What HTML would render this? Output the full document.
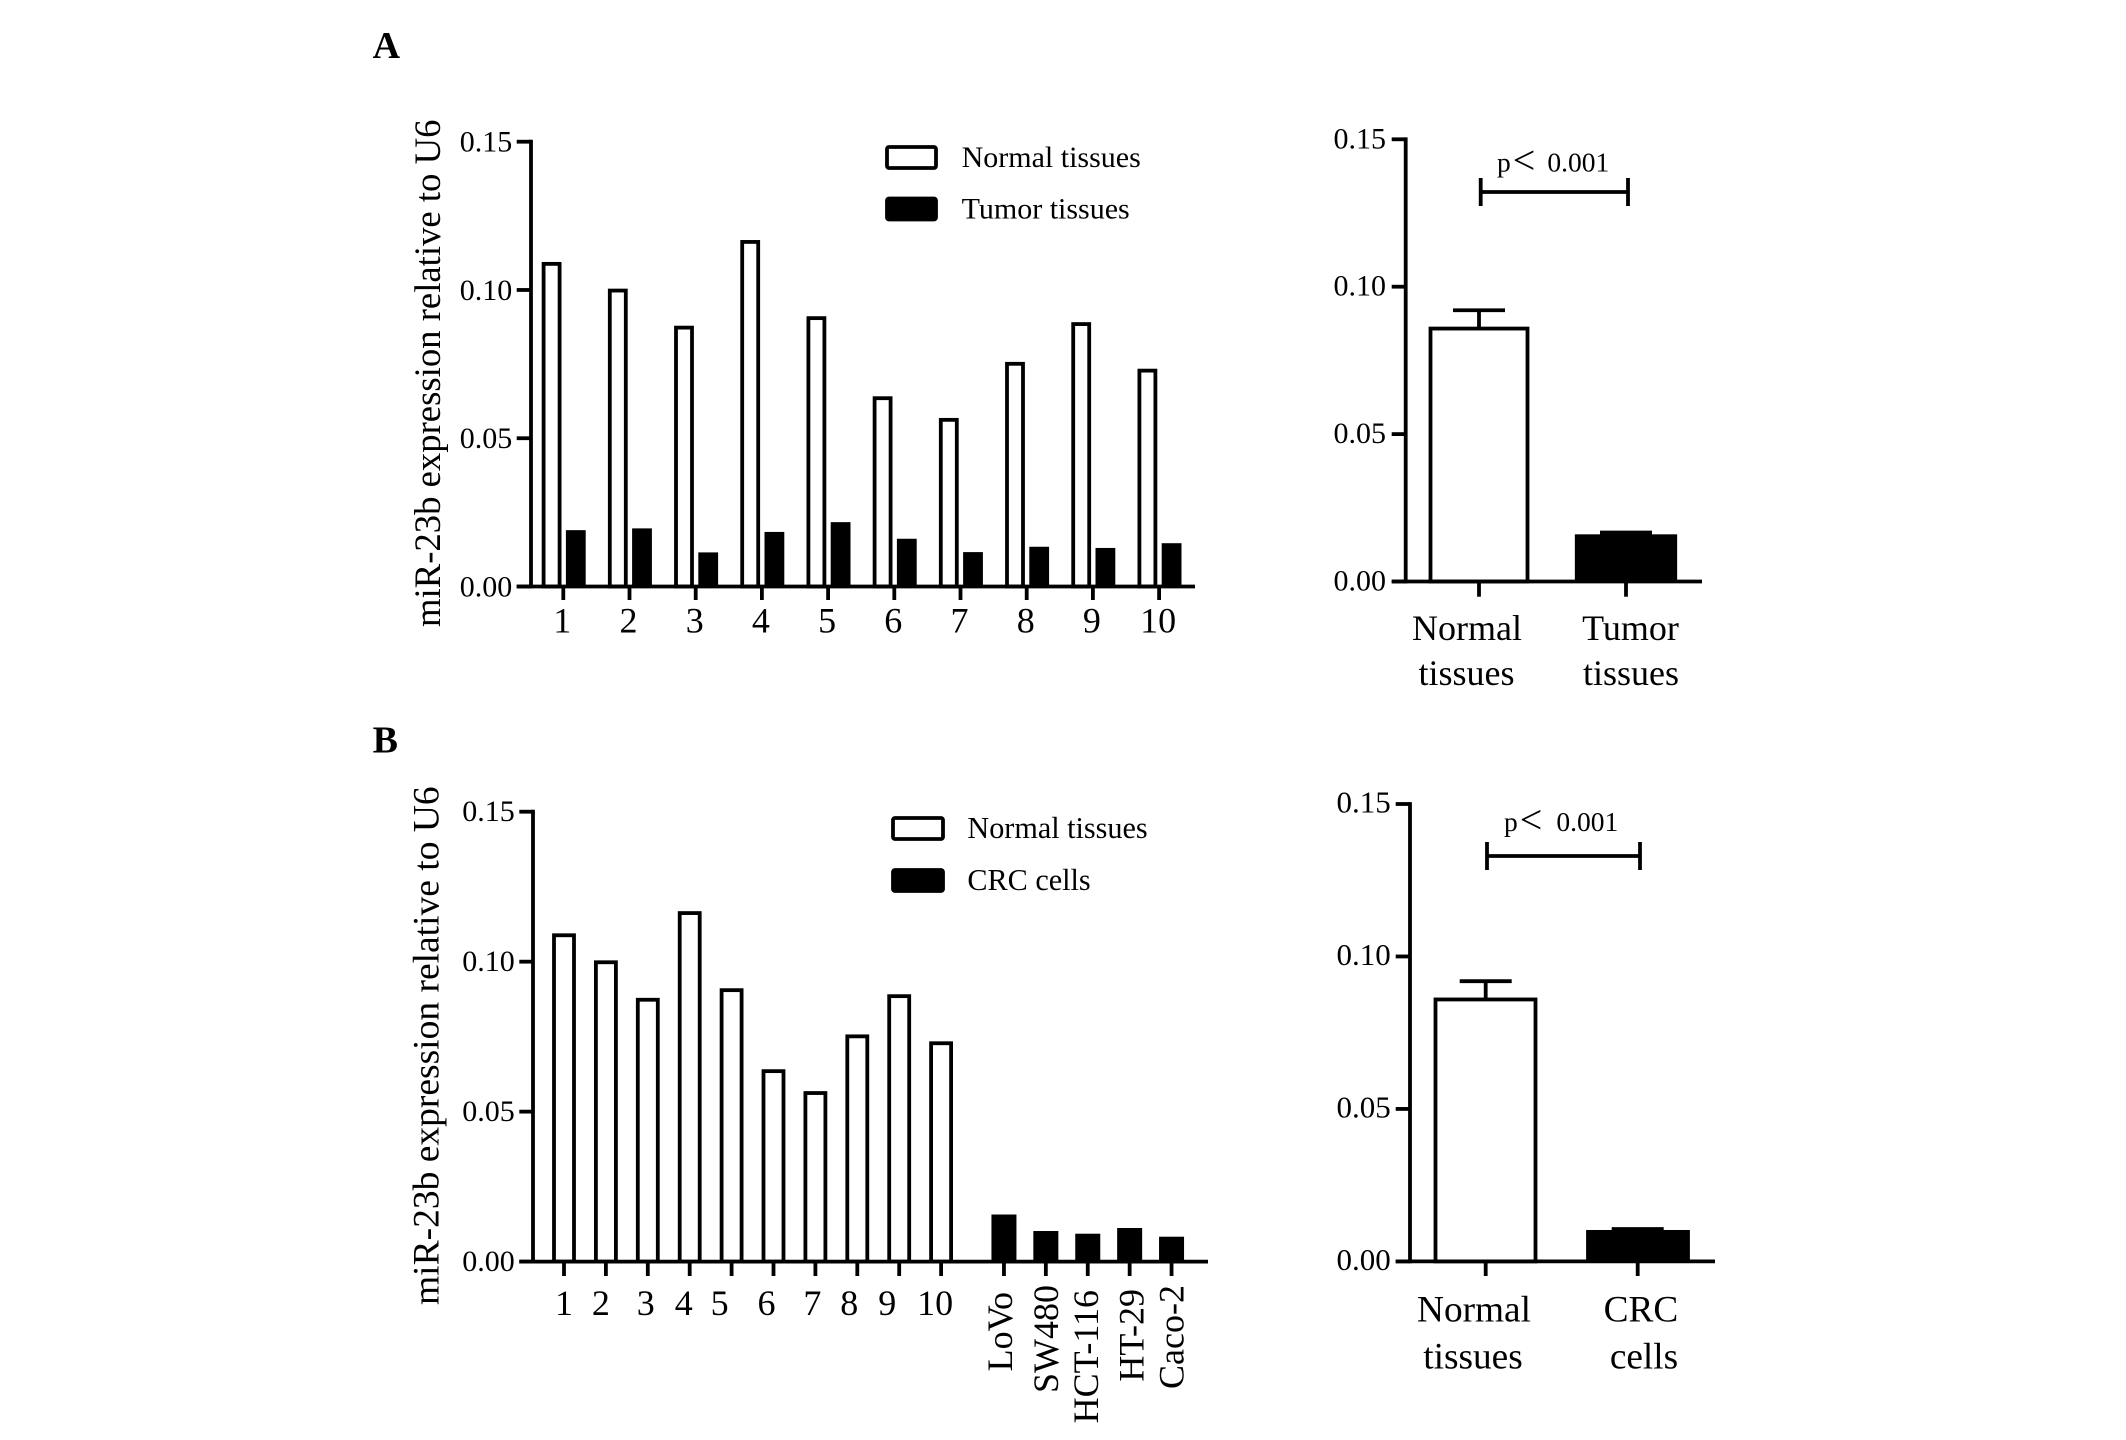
<!DOCTYPE html>
<html lang="en">
<head>
<meta charset="utf-8">
<title>miR-23b expression</title>
<style>
html,body{margin:0;padding:0;background:#fff;}
svg{display:block;}
text{font-family:"Liberation Serif",serif;fill:#000;}
</style>
</head>
<body>
<svg id="figure" xmlns="http://www.w3.org/2000/svg" width="2126" height="1440" viewBox="0 0 2126 1440"></svg>
<script>
const yTickValues = [0, 0.05, 0.10, 0.15];
const yTickLabels = ["0.00", "0.05", "0.10", "0.15"];
const sampleCategories = ["1", "2", "3", "4", "5", "6", "7", "8", "9", "10"];
const cellLines = ["LoVo", "SW480", "HCT-116", "HT-29", "Caco-2"];
const normalTissues = [0.1088, 0.0998, 0.0873, 0.1162, 0.0905, 0.0635, 0.0562, 0.0751, 0.0885, 0.0728];
const tumorTissues = [0.0190, 0.0196, 0.0115, 0.0184, 0.0217, 0.0161, 0.0116, 0.0134, 0.0130, 0.0146];
const crcCells = [0.0157, 0.0102, 0.0093, 0.0112, 0.0083];
const summaryAMeans = [0.0858, 0.0160];
const summaryAErrors = [0.0062, 0.0006];
const summaryALabels = [["Normal", "tissues"], ["Tumor", "tissues"]];
const summaryBMeans = [0.0859, 0.0103];
const summaryBErrors = [0.0060, 0.0003];
const summaryBLabels = [["Normal", "tissues"], ["CRC", "cells"]];

const svg = document.getElementById('figure');
const NS = 'http://www.w3.org/2000/svg';
const SW = 3.8;

function add(tag, name, attrs, parent) {
  const el = document.createElementNS(NS, tag);
  
  
  for (const k in attrs) el.setAttribute(k, attrs[k]);
  (parent || svg).appendChild(el);
  return el;
}
function line(name, x1, y1, x2, y2) {
  return add('line', name, {x1, y1, x2, y2, stroke: '#000', 'stroke-width': SW});
}
function bar(name, cx, w, top, bottom, filled) {
  if (filled) {
    return add('rect', name, {x: cx - (w + SW) / 2, y: top, width: w + SW, height: bottom - top, fill: '#000'});
  }
  return add('rect', name, {
    x: cx - w / 2, y: top, width: w, height: bottom - top,
    fill: '#fff', stroke: '#000', 'stroke-width': SW
  });
}
function label(name, content, x, y, size, anchor, extra) {
  const t = add('text', name, Object.assign({x, y, 'font-size': size, 'text-anchor': anchor || 'start'}, extra || {}));
  t.textContent = content;
  return t;
}
function yScale(p) {
  return v => p.y0 + (p.y15 - p.y0) * v / 0.15;
}
function yAxis(p, y) {
  line('y-axis', p.axisX, p.y15 - SW / 2, p.axisX, p.y0 + SW / 2);
  yTickValues.forEach((v, i) => {
    line('y-tick-' + yTickLabels[i], p.tickLeft, y(v), p.axisX, y(v));
    label('y-tick-label-' + yTickLabels[i], yTickLabels[i], p.labelRight, y(v) + p.labelDy, p.tickFont, 'end');
  });
}
function legend(p, firstText, secondText) {
  add('rect', 'legend-swatch-normal', {x: p.lx, y: p.ly1, width: p.lw, height: p.lh, rx: 2, fill: '#fff', stroke: '#000', 'stroke-width': SW});
  label('legend-label-normal', firstText, p.ltx, p.ly1 + p.lh - 1, p.lfont);
  add('rect', 'legend-swatch-filled', {x: p.lx, y: p.ly2, width: p.lw, height: p.lh, rx: 2, fill: '#000', stroke: '#000', 'stroke-width': SW});
  label('legend-label-filled', secondText, p.ltx, p.ly2 + p.lh - 1, p.lfont);
}
function yTitle(x, y, size) {
  label('y-axis-title', 'miR-23b expression relative to U6', 0, 0, size, 'start', {transform: 'translate(' + x + ',' + y + ') rotate(-90)'});
}

function drawPairedPanel() {
  const p = {axisX: 531, y0: 586.5, y15: 141.7, tickLeft: 516.7, labelRight: 512.3, tickFont: 30, labelDy: 10,
    lx: 887, ly1: 147, ly2: 198.5, lw: 49, lh: 21, ltx: 961.6, lfont: 30};
  const y = yScale(p);
  const x = i => 563.3 + 66.2 * i;
  sampleCategories.forEach((c, i) => {
    bar('bar-normal-' + c, x(i) - 11.7, 16, y(normalTissues[i]), p.y0, false);
    bar('bar-tumor-' + c, x(i) + 12.5, 16, y(tumorTissues[i]), p.y0, true);
    line('x-tick-' + c, x(i), p.y0, x(i), 600);
    label('x-tick-label-' + c, c, x(i) - 1, 632.7, 36, 'middle');
  });
  yAxis(p, y);
  line('x-axis', p.tickLeft, p.y0, 1195, p.y0);
  yTitle(440, 627, 36.7);
  legend(p, 'Normal tissues', 'Tumor tissues');
}

function drawCellPanel() {
  const p = {axisX: 533, y0: 1261.6, y15: 811.7, tickLeft: 519.3, labelRight: 514.7, tickFont: 30, labelDy: 9.5,
    lx: 893, ly1: 818, ly2: 870, lw: 50, lh: 21, ltx: 967.4, lfont: 30.2};
  const y = yScale(p);
  const x = i => 564 + 41.9 * i;
  const labelNudge = [0, -5, -2, -6, -12, -7, -3, -8, -12, -6];
  sampleCategories.forEach((c, i) => {
    bar('bar-normal-' + c, x(i), 20, y(normalTissues[i]), p.y0, false);
    line('x-tick-' + c, x(i), p.y0, x(i), 1276);
    label('x-tick-label-' + c, c, x(i) + labelNudge[i], 1315, 36, 'middle');
  });
  const labelTop = [1292, 1285, 1290, 1289, 1285];
  const baselineNudge = [8, 12, 10, 14, 12];
  cellLines.forEach((c, i) => {
    const cx = x(i + 10.5);
    bar('bar-cell-' + c, cx, 21.2, y(crcCells[i]), p.y0, true);
    line('x-tick-' + c, cx, p.y0, cx, 1276);
    label('x-tick-label-' + c, c, 0, 0, 36, 'end', {transform: 'translate(' + (cx + baselineNudge[i]) + ',' + labelTop[i] + ') rotate(-90)'});
  });
  yAxis(p, y);
  line('x-axis', p.tickLeft, p.y0, 1208, p.y0);
  yTitle(438.5, 1305, 37.5);
  legend(p, 'Normal tissues', 'CRC cells');
}

function drawSummary(p, means, errors, cats) {
  const y = yScale(p);
  means.forEach((m, i) => {
    const b = p.bars[i];
    const top = y(m + errors[i]);
    line('error-stem-' + i, b.tick, y(m), b.tick, top);
    line('error-cap-' + i, b.tick - 26, top, b.tick + 26, top);
    bar('summary-bar-' + cats[i][0].toLowerCase(), b.cx, b.w, y(m), p.y0, i === 1);
    line('x-tick-' + i, b.tick, p.y0, b.tick, p.tickBottom);
    label('x-label-' + cats[i][0].toLowerCase(), cats[i][0], b.l1, p.base1, p.catFont, 'middle');
    label('x-label-' + cats[i][1].toLowerCase() + '-' + i, cats[i][1], b.l2, p.base2, p.catFont, 'middle');
  });
  yAxis(p, y);
  line('x-axis', p.tickLeft, p.y0, p.xEnd, p.y0);
  line('significance-bracket', p.bx1, p.by, p.bx2, p.by);
  line('significance-bracket-left-cap', p.bx1, p.by - 14, p.bx1, p.by + 14);
  line('significance-bracket-right-cap', p.bx2, p.by - 14, p.bx2, p.by + 14);
  const t = add('text', 'p-value-label', {x: p.px, y: p.py, 'font-size': 27.5});
  t.textContent = 'p';
  const lt = document.createElementNS(NS, 'tspan');
  lt.setAttribute('font-size', '40');
  lt.setAttribute('dy', '2');
  lt.setAttribute('dx', '2');
  lt.textContent = '<';
  t.appendChild(lt);
  const num = document.createElementNS(NS, 'tspan');
  num.setAttribute('dy', '-2');
  num.setAttribute('dx', p.numDx);
  num.textContent = '0.001';
  t.appendChild(num);
}

add('rect', 'background', {x: 0, y: 0, width: 2126, height: 1440, fill: '#fff'});
label('panel-a-label', 'A', 372.6, 58, 38, 'start', {'font-weight': 'bold'});
label('panel-b-label', 'B', 372.6, 752.5, 38, 'start', {'font-weight': 'bold'});

drawPairedPanel();
drawCellPanel();
drawSummary({axisX: 1405.7, y0: 581.5, y15: 139.3, tickLeft: 1391.7, labelRight: 1386, tickFont: 30, labelDy: 9, xEnd: 1702,
  tickBottom: 596.7, catFont: 36, base1: 640, base2: 685,
  bars: [{cx: 1479, w: 97, tick: 1479, l1: 1467, l2: 1466.5}, {cx: 1626, w: 98.5, tick: 1626, l1: 1630.5, l2: 1631}],
  bx1: 1480.7, bx2: 1628, by: 192, px: 1497, py: 171.7, numDx: 12}, summaryAMeans, summaryAErrors, summaryALabels);
drawSummary({axisX: 1410, y0: 1261.4, y15: 804, tickLeft: 1395.7, labelRight: 1390.7, tickFont: 31, labelDy: 8.7, xEnd: 1715,
  tickBottom: 1276, catFont: 37.3, base1: 1321.4, base2: 1368.5,
  bars: [{cx: 1485.5, w: 100, tick: 1485.7, l1: 1474, l2: 1473}, {cx: 1638, w: 100, tick: 1637.7, l1: 1641, l2: 1644}],
  bx1: 1487, bx2: 1640, by: 856, px: 1504, py: 831, numDx: 14}, summaryBMeans, summaryBErrors, summaryBLabels);
</script>
</body>
</html>
